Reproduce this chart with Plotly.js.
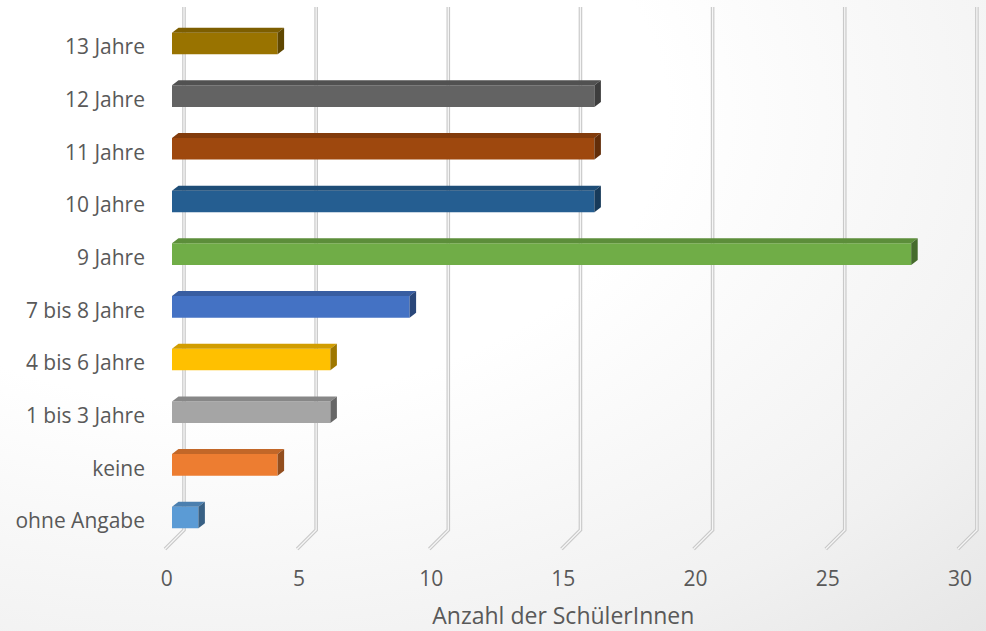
<!DOCTYPE html>
<html>
<head>
<meta charset="utf-8">
<script src="https://cdn.plot.ly/plotly-3.0.1.min.js"></script>
<style>
html,body{margin:0;padding:0;}
body{width:986px;height:631px;overflow:hidden;
background:radial-gradient(ellipse 120% 120% at 22% 18%, #ffffff 0%, #ffffff 38%, #f1f1f1 75%, #e3e3e3 100%);}
#chart{width:986px;height:631px;}
</style>
</head>
<body>
<div id="chart"></div>
<script>
// ---- data ----
var categories = ['ohne Angabe','keine','1 bis 3 Jahre','4 bis 6 Jahre','7 bis 8 Jahre','9 Jahre','10 Jahre','11 Jahre','12 Jahre','13 Jahre'];
var values = [1, 4, 6, 6, 9, 28, 16, 16, 16, 4];
var colors = ['#5b9bd5','#ed7d31','#a5a5a5','#ffc000','#4472c4','#70ad47','#255e91','#9e480e','#636363','#997300'];
var xTicks = [0, 5, 10, 15, 20, 25, 30];
var xTitle = 'Anzahl der SchülerInnen';

// ---- layout geometry (pixels) ----
var W = 986, H = 631;
function fx(px){ return px / W; }
function fy(py){ return 1 - py / H; }
var xMax = 30;
var labelX0 = 166.7, labelX1 = 960;      // tick-label axis
var barX0 = 172, barUnit = 26.4;          // bar front faces
var gridX0 = 184, gridUnit = 26.43;       // back wall
var floorX0 = 165;                        // floor front
var catTop = 20.65, catBot = 547.35;      // label axis domain
var barShift = 3.5;                       // bars sit a bit higher than labels
var depthPx = 6.5, depthPy = 5;           // 3D depth offset
var barW = 0.41;
var catStep = (catBot - catTop) / categories.length;
var dxu = depthPx / barUnit, dyu = depthPy / catStep;

function shade(hex, f){
  var r = parseInt(hex.substr(1,2),16), g = parseInt(hex.substr(3,2),16), b = parseInt(hex.substr(5,2),16);
  return 'rgb(' + Math.round(r*f) + ',' + Math.round(g*f) + ',' + Math.round(b*f) + ')';
}

var idx = categories.map(function(_, i){ return i; });
var traces = [];

// front faces
traces.push({
  type: 'bar', orientation: 'h',
  x: values, y: idx, width: barW,
  marker: {color: colors, line: {width: 0}},
  xaxis: 'x2', yaxis: 'y2', hoverinfo: 'x', showlegend: false
});
// top and side faces
values.forEach(function(v, i){
  var t = i + barW/2, b = i - barW/2;
  traces.push({
    type: 'scatter', mode: 'lines', fill: 'toself',
    x: [0, v, v + dxu, dxu, 0], y: [t, t, t + dyu, t + dyu, t],
    line: {width: 0}, fillcolor: shade(colors[i], 0.82),
    xaxis: 'x2', yaxis: 'y2', hoverinfo: 'skip', showlegend: false
  });
  traces.push({
    type: 'scatter', mode: 'lines', fill: 'toself',
    x: [v, v, v + dxu, v + dxu, v], y: [b, t, t + dyu, b + dyu, b],
    line: {width: 0}, fillcolor: shade(colors[i], 0.62),
    xaxis: 'x2', yaxis: 'y2', hoverinfo: 'skip', showlegend: false
  });
});
// invisible trace to carry the labelled axes
traces.push({type:'scatter', mode:'markers', x:[0], y:[0], marker:{opacity:0}, xaxis:'x', yaxis:'y', hoverinfo:'skip', showlegend:false});

// gridlines (3D wall + floor)
var shapes = [];
xTicks.forEach(function(t){
  var xb = fx(gridX0 + t*gridUnit), xf = fx(floorX0 + t*gridUnit);
  var path = 'M ' + xb + ' ' + fy(7) + ' L ' + xb + ' ' + fy(530) + ' L ' + xf + ' ' + fy(549);
  shapes.push({type:'path', xref:'paper', yref:'paper', path: path, layer:'below',
    line:{color:'#c9c9c9', width:3.6}});
  shapes.push({type:'path', xref:'paper', yref:'paper', path: path, layer:'below',
    line:{color:'#f6f6f6', width:1.3}});
});

var font = {family:'"Open Sans", "Noto Sans", sans-serif', size:21, color:'#595959'};

var layout = {
  width: W, height: H,
  margin: {l:0, r:0, t:0, b:0, pad:0},
  paper_bgcolor: 'rgba(0,0,0,0)', plot_bgcolor: 'rgba(0,0,0,0)',
  font: font,
  showlegend: false,
  shapes: shapes,
  xaxis: {
    domain: [fx(labelX0), fx(labelX1)], range: [0, xMax],
    anchor: 'free', position: fy(564),
    tickvals: xTicks, ticks: '', showgrid: false, zeroline: false, showline: false,
    tickfont: font, fixedrange: true,
    title: {text: xTitle, font: {family: font.family, size: 23, color: '#595959'}, standoff: 21}
  },
  yaxis: {
    domain: [fy(catBot), fy(catTop)], range: [-0.5, categories.length - 0.5],
    anchor: 'free', position: fx(145),
    tickvals: idx, ticktext: categories, ticks: '', showgrid: false, zeroline: false, showline: false,
    tickfont: font, fixedrange: true
  },
  xaxis2: {
    domain: [fx(barX0), fx(barX0 + xMax*barUnit)], range: [0, xMax],
    anchor: 'y2', visible: false, fixedrange: true
  },
  yaxis2: {
    domain: [fy(catBot - barShift), fy(catTop - barShift)], range: [-0.5, categories.length - 0.5],
    anchor: 'x2', visible: false, fixedrange: true
  }
};

Plotly.newPlot('chart', traces, layout, {displayModeBar: false, staticPlot: true});
</script>
</body>
</html>
